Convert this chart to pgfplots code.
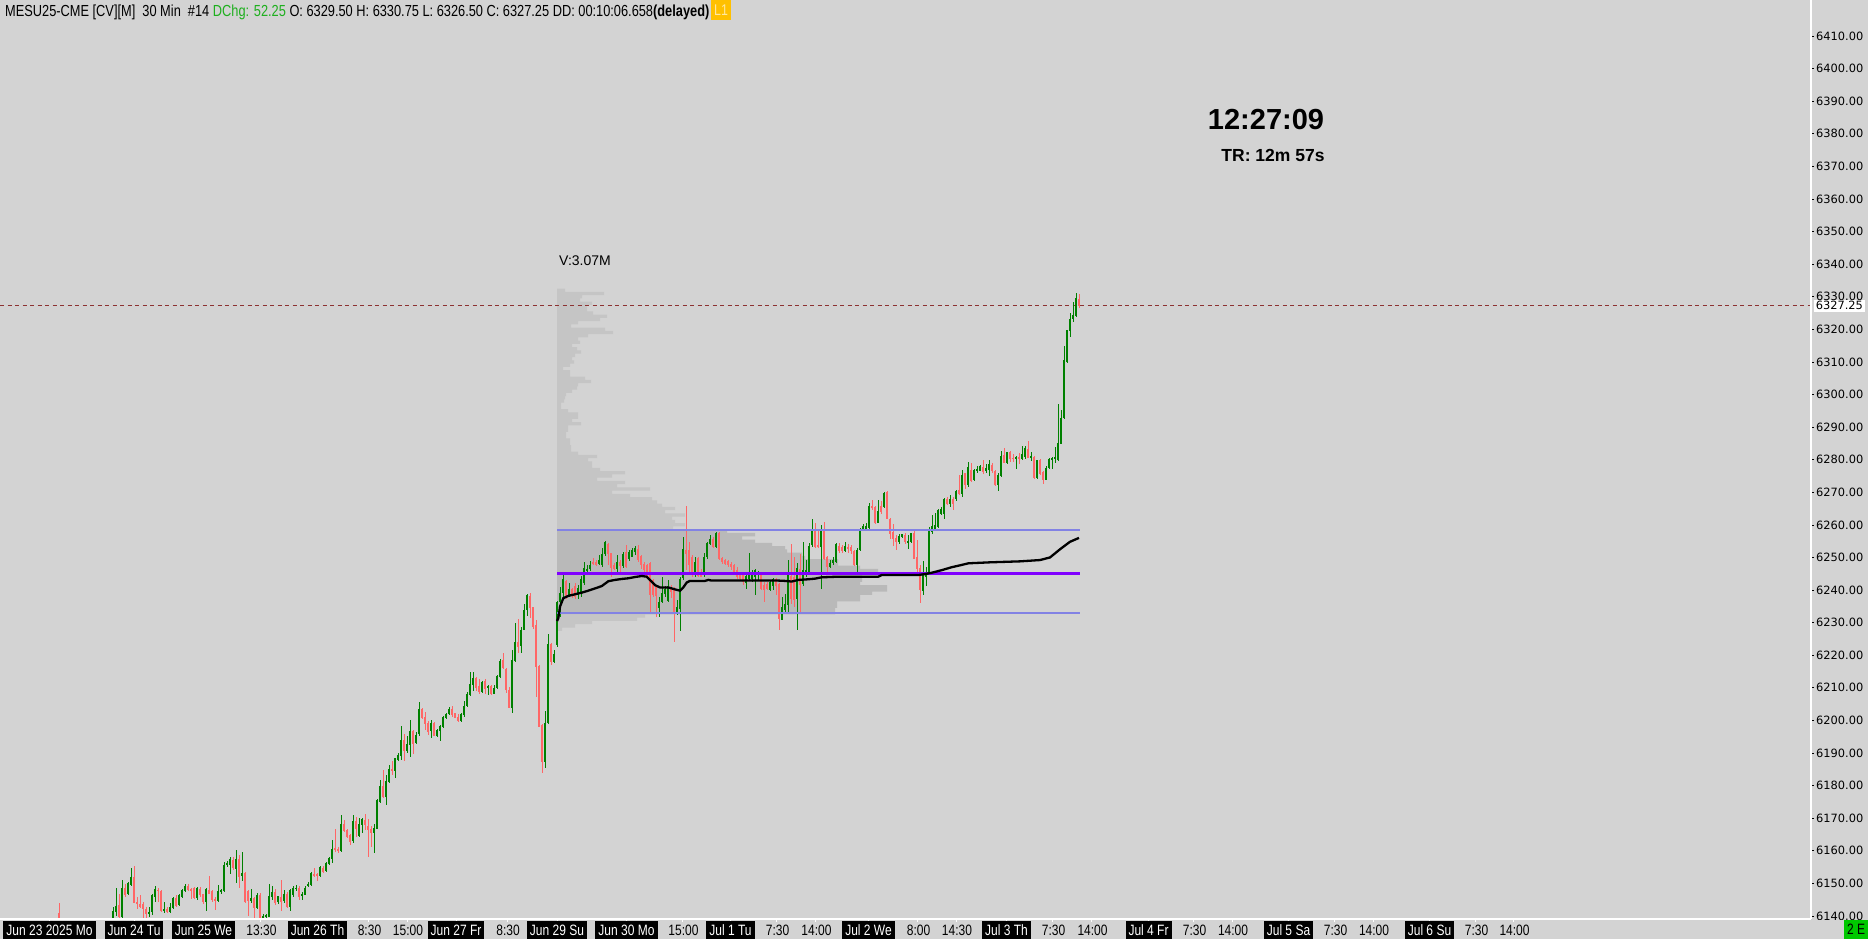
\documentclass[border=0pt]{standalone}
\usepackage{pgfplots}
\pgfplotsset{compat=1.18}
\usepackage{pgfplotstable}
\usepackage{fontspec}
\setmainfont{Liberation Sans}
\newfontfamily\narrowf[FakeStretch=0.8]{Liberation Sans}
\newfontfamily\dvs{DejaVu Sans}
\definecolor{bgc}{RGB}{211,211,211}
\definecolor{upc}{RGB}{0,128,0}
\definecolor{dnc}{RGB}{255,102,102}
\definecolor{profout}{RGB}{197,197,197}
\definecolor{profin}{RGB}{185,185,185}
\definecolor{valine}{RGB}{130,130,228}
\definecolor{pocline}{RGB}{128,0,255}
\definecolor{lastc}{RGB}{140,50,50}
\definecolor{dchg}{RGB}{30,175,30}
\definecolor{lone}{RGB}{255,192,0}
\definecolor{lonet}{RGB}{255,232,160}
\definecolor{eboxc}{RGB}{0,200,0}
\newcommand\db[1]{{\setlength\fboxsep{0pt}\colorbox{black}{\rule[-4pt]{0pt}{18pt}\hspace{3pt}\textcolor{white}{#1}\hspace{3pt}}}}
\newcommand\tl[1]{\rule[-4pt]{0pt}{18pt}\hspace{2pt}#1\hspace{2pt}}

\pgfplotstableread{
i o h l c
-18 6141.0 6143.9 6135.0 6138.0
0 6138.3 6142.7 6137.7 6141.5
1 6141.3 6148.8 6140.0 6143.0
2 6143.3 6146.7 6139.5 6139.8
3 6139.8 6151.0 6139.6 6148.5
4 6148.5 6150.0 6145.9 6146.6
5 6146.6 6150.5 6146.4 6150.2
6 6149.5 6154.6 6149.2 6151.9
7 6151.9 6155.3 6143.9 6144.1
8 6144.3 6145.9 6142.3 6143.7
9 6143.7 6146.4 6142.6 6142.9
10 6143.9 6144.4 6139.1 6142.3
11 6142.3 6142.8 6138.0 6140.6
12 6140.8 6142.8 6139.8 6141.5
13 6141.3 6146.9 6140.3 6146.3
14 6145.9 6149.2 6144.4 6148.2
15 6148.2 6148.8 6144.4 6147.8
16 6147.7 6148.0 6141.3 6141.6
17 6141.6 6144.4 6140.8 6142.1
18 6142.1 6142.6 6140.8 6141.3
19 6141.3 6144.1 6141.0 6142.9
20 6142.6 6145.9 6142.3 6145.6
21 6145.7 6146.4 6142.9 6143.3
22 6143.5 6146.9 6143.3 6146.6
23 6145.9 6148.4 6145.7 6148.0
24 6147.8 6150.0 6147.5 6149.2
25 6149.2 6149.8 6147.8 6148.0
26 6148.4 6148.8 6145.4 6148.0
27 6148.4 6148.8 6145.2 6145.3
28 6145.3 6148.8 6144.9 6148.4
29 6148.4 6148.8 6145.9 6146.4
30 6146.7 6146.9 6143.9 6144.4
31 6144.3 6148.5 6141.6 6148.2
32 6148.0 6152.3 6146.7 6146.9
33 6147.8 6148.2 6144.4 6144.9
34 6145.1 6145.9 6141.8 6144.7
35 6144.7 6149.5 6144.4 6147.7
36 6147.5 6148.5 6147.0 6148.0
37 6147.8 6156.8 6147.5 6155.9
38 6155.6 6157.0 6155.1 6156.2
39 6155.6 6158.0 6152.9 6157.5
40 6157.2 6158.0 6154.1 6154.8
41 6154.6 6160.2 6150.0 6157.5
42 6157.5 6158.7 6148.5 6152.1
43 6152.3 6159.7 6151.0 6153.3
44 6153.1 6153.6 6144.1 6144.4
45 6147.5 6148.0 6140.0 6144.7
46 6144.7 6148.5 6144.1 6145.5
47 6145.5 6145.9 6139.3 6142.6
48 6142.6 6147.1 6142.3 6146.4
49 6146.4 6147.1 6137.5 6138.5
50 6139.1 6140.8 6138.5 6140.0
51 6139.8 6140.8 6139.0 6140.3
52 6139.8 6149.7 6139.6 6146.1
53 6145.9 6149.2 6144.9 6147.4
54 6147.4 6148.2 6143.4 6143.9
55 6144.4 6146.4 6143.9 6146.1
56 6145.9 6151.0 6141.6 6144.4
57 6144.7 6148.0 6144.1 6146.7
58 6146.7 6147.5 6142.6 6142.9
59 6142.9 6148.2 6141.6 6148.0
60 6146.7 6149.2 6145.9 6148.8
61 6148.5 6149.5 6147.8 6148.8
62 6148.8 6149.2 6145.1 6146.1
63 6146.4 6147.5 6144.9 6146.9
64 6146.7 6149.2 6146.4 6148.8
65 6149.2 6150.5 6148.8 6149.7
66 6149.4 6153.6 6149.2 6153.3
67 6153.1 6154.8 6151.9 6152.3
68 6152.9 6153.3 6150.8 6152.3
69 6152.3 6155.6 6152.1 6154.9
70 6154.9 6155.3 6153.1 6153.6
71 6153.9 6156.7 6153.6 6156.4
72 6156.0 6158.2 6155.6 6157.7
73 6157.5 6163.5 6156.2 6160.6
74 6160.8 6166.9 6159.7 6160.2
75 6160.6 6161.3 6159.4 6160.0
76 6160.0 6171.0 6159.9 6168.4
77 6168.4 6169.6 6165.9 6166.1
78 6166.4 6166.6 6164.1 6164.5
79 6165.0 6165.3 6161.8 6162.8
80 6162.8 6171.0 6162.5 6169.1
81 6169.1 6170.5 6164.3 6166.9
82 6164.6 6170.2 6164.3 6168.4
83 6167.9 6170.2 6165.4 6170.0
84 6169.6 6171.5 6166.4 6167.9
85 6167.6 6169.6 6158.0 6166.4
86 6166.6 6167.6 6161.4 6165.4
87 6165.4 6168.4 6159.4 6167.1
88 6166.9 6176.0 6166.6 6175.6
89 6175.1 6181.9 6174.8 6179.9
90 6179.9 6185.0 6176.4 6176.6
91 6176.6 6183.2 6174.0 6181.4
92 6181.1 6186.3 6180.7 6185.0
93 6185.3 6187.5 6183.2 6184.5
94 6184.5 6188.7 6182.5 6188.4
95 6188.0 6190.1 6187.6 6189.4
96 6189.1 6198.3 6187.9 6194.0
97 6194.0 6195.8 6187.6 6190.9
98 6190.9 6195.2 6190.1 6192.8
99 6192.5 6200.1 6188.9 6196.8
100 6196.8 6197.3 6189.9 6193.0
101 6193.2 6196.5 6192.8 6195.5
102 6196.0 6205.8 6195.3 6203.5
103 6203.5 6204.0 6200.6 6200.8
104 6201.1 6202.7 6196.9 6198.9
105 6199.4 6199.9 6195.5 6196.5
106 6196.8 6200.1 6194.7 6199.4
107 6199.4 6199.6 6195.3 6195.3
108 6195.3 6197.3 6195.0 6197.1
109 6196.9 6198.6 6193.8 6198.3
110 6198.1 6201.5 6197.8 6201.1
111 6200.8 6202.4 6200.5 6202.0
112 6202.0 6204.2 6201.8 6203.4
113 6203.4 6204.4 6201.1 6201.7
114 6202.2 6202.4 6200.6 6200.9
115 6201.1 6201.9 6199.6 6199.9
116 6199.9 6202.4 6199.6 6201.9
117 6201.6 6206.0 6201.1 6204.4
118 6204.4 6208.7 6204.2 6208.1
119 6207.8 6214.9 6207.5 6211.1
120 6210.9 6214.9 6209.1 6213.2
121 6213.2 6213.4 6209.1 6210.1
122 6210.6 6212.9 6208.3 6208.8
123 6208.8 6212.2 6208.5 6211.8
124 6212.1 6212.8 6208.1 6209.6
125 6209.8 6210.9 6207.8 6210.6
126 6210.6 6210.9 6207.8 6208.1
127 6208.3 6210.9 6208.1 6210.2
128 6209.8 6213.9 6209.5 6213.6
129 6213.4 6218.9 6213.1 6218.5
130 6218.5 6220.9 6215.9 6216.2
131 6215.8 6216.3 6208.5 6209.3
132 6209.3 6210.1 6203.9 6203.9
133 6203.9 6221.6 6202.4 6218.5
134 6218.3 6230.1 6218.0 6224.2
135 6224.2 6231.3 6220.8 6222.6
136 6222.8 6228.8 6220.8 6227.9
137 6227.9 6235.9 6227.7 6233.9
138 6233.9 6238.8 6232.2 6238.5
139 6238.2 6239.0 6231.5 6234.4
140 6234.7 6234.9 6228.0 6228.8
141 6229.3 6230.8 6207.3 6216.5
142 6216.7 6217.0 6198.1 6198.1
143 6198.6 6198.9 6183.8 6187.3
144 6187.3 6203.0 6185.6 6199.3
145 6199.3 6226.7 6199.1 6223.6
146 6223.4 6223.8 6217.1 6218.0
147 6218.0 6221.6 6217.7 6220.6
148 6223.1 6236.6 6222.6 6236.3
149 6236.4 6240.8 6231.8 6239.2
150 6239.0 6245.6 6238.0 6243.3
151 6242.8 6243.1 6237.5 6237.8
152 6238.0 6242.1 6237.8 6240.5
153 6240.5 6240.8 6237.8 6239.0
154 6241.5 6242.1 6237.2 6238.0
155 6238.5 6241.5 6237.2 6240.5
156 6238.8 6244.3 6238.0 6243.3
157 6242.1 6248.7 6241.8 6246.7
158 6246.2 6247.7 6245.6 6246.7
159 6246.4 6249.0 6246.0 6247.7
160 6248.7 6250.0 6247.7 6248.0
161 6248.7 6249.4 6247.4 6247.7
162 6248.2 6250.8 6247.7 6249.2
163 6247.7 6252.8 6247.2 6251.3
164 6251.1 6255.2 6250.4 6254.8
165 6254.3 6254.5 6247.7 6251.1
166 6251.3 6251.5 6244.1 6246.7
167 6247.7 6248.2 6246.0 6246.7
168 6246.7 6250.8 6245.1 6248.7
169 6248.7 6249.4 6245.6 6247.4
170 6247.4 6251.6 6246.7 6251.3
171 6251.8 6253.8 6246.7 6247.2
172 6249.7 6252.3 6249.2 6251.8
173 6250.4 6252.8 6250.0 6252.3
174 6251.8 6253.5 6250.8 6252.8
175 6252.8 6253.8 6248.7 6249.2
176 6250.4 6250.8 6246.7 6247.7
177 6248.2 6248.7 6244.1 6246.2
178 6247.7 6248.2 6244.1 6244.6
179 6248.2 6248.7 6233.4 6238.5
180 6243.1 6243.6 6238.0 6238.5
181 6240.8 6241.5 6231.8 6238.2
182 6234.4 6238.0 6231.8 6236.4
183 6236.4 6244.1 6235.9 6239.2
184 6239.0 6241.5 6238.0 6240.5
185 6236.7 6243.1 6236.4 6241.2
186 6240.8 6241.5 6237.5 6239.5
187 6240.0 6240.8 6224.2 6232.9
188 6232.7 6236.9 6232.3 6234.7
189 6234.4 6244.1 6227.5 6243.6
190 6243.6 6256.4 6243.1 6252.5
191 6252.5 6265.8 6246.2 6251.3
192 6252.3 6254.8 6245.1 6247.7
193 6250.3 6250.8 6243.9 6244.6
194 6244.6 6250.2 6244.1 6248.7
195 6249.7 6250.0 6243.9 6244.3
196 6245.6 6246.4 6243.9 6244.3
197 6244.6 6251.5 6244.1 6250.2
198 6250.2 6254.8 6249.7 6254.5
199 6254.3 6256.9 6253.8 6255.9
200 6255.6 6256.4 6252.8 6253.3
201 6253.3 6257.9 6252.8 6257.6
202 6257.6 6257.9 6249.4 6249.7
203 6250.0 6250.2 6248.2 6248.7
204 6249.2 6249.7 6247.7 6248.2
205 6249.0 6249.4 6247.2 6247.7
206 6248.2 6248.7 6246.2 6247.2
207 6247.7 6248.0 6244.6 6245.1
208 6246.2 6247.2 6243.6 6244.1
209 6245.1 6245.6 6243.1 6243.6
210 6244.6 6245.1 6241.5 6242.6
211 6242.3 6244.6 6240.2 6244.3
212 6243.3 6251.3 6242.6 6244.6
213 6243.6 6246.2 6242.6 6245.1
214 6243.9 6246.7 6238.5 6246.2
215 6244.6 6245.9 6243.1 6245.6
216 6245.3 6245.6 6240.0 6240.5
217 6241.5 6242.6 6236.4 6240.2
218 6241.9 6242.6 6240.0 6240.5
219 6240.2 6243.1 6239.8 6242.6
220 6241.2 6243.9 6240.2 6243.3
221 6243.3 6243.6 6238.5 6241.2
222 6242.1 6242.3 6227.7 6231.3
223 6230.8 6238.0 6230.8 6234.9
224 6233.9 6238.8 6233.4 6235.7
225 6235.4 6249.2 6233.4 6245.6
226 6244.3 6254.3 6235.9 6237.2
227 6244.1 6250.2 6234.9 6237.2
228 6237.2 6248.2 6227.7 6246.7
229 6246.7 6251.3 6233.4 6241.5
230 6242.1 6254.8 6241.5 6246.2
231 6244.6 6249.2 6244.1 6246.2
232 6244.9 6254.5 6244.6 6253.8
233 6253.8 6261.7 6253.3 6258.9
234 6258.6 6260.5 6252.8 6253.3
235 6253.8 6258.9 6252.8 6253.3
236 6253.3 6260.0 6240.5 6258.2
237 6258.2 6261.0 6249.2 6249.7
238 6250.2 6250.4 6244.6 6247.2
239 6247.2 6249.2 6246.7 6248.4
240 6248.4 6250.2 6247.7 6249.4
241 6248.7 6254.4 6248.4 6254.1
242 6253.5 6254.5 6251.3 6252.1
243 6253.3 6253.8 6251.5 6252.1
244 6252.1 6254.8 6251.8 6253.5
245 6253.5 6254.1 6251.5 6252.8
246 6253.1 6253.8 6251.1 6252.1
247 6252.1 6252.5 6247.4 6247.7
248 6247.7 6252.8 6245.1 6252.5
249 6252.3 6259.2 6252.1 6258.9
250 6258.6 6260.5 6258.4 6259.6
251 6258.9 6260.7 6258.2 6259.6
252 6259.2 6266.8 6258.9 6265.8
253 6265.8 6267.6 6264.6 6265.1
254 6265.6 6266.0 6260.5 6260.7
255 6260.7 6267.6 6260.5 6264.5
256 6265.8 6267.6 6263.5 6264.0
257 6265.6 6270.2 6265.4 6270.0
258 6270.2 6270.4 6261.7 6262.0
259 6262.0 6262.3 6255.9 6257.4
260 6257.9 6260.5 6253.8 6255.6
261 6255.9 6256.9 6252.5 6254.8
262 6254.8 6257.2 6254.3 6256.6
263 6256.4 6257.4 6256.2 6257.2
264 6256.9 6257.4 6254.3 6254.8
265 6254.5 6256.9 6252.8 6255.0
266 6254.8 6257.6 6254.3 6257.4
267 6257.4 6258.4 6249.7 6249.7
268 6250.2 6255.4 6245.1 6246.4
269 6246.7 6247.7 6235.9 6240.0
270 6240.0 6249.2 6238.5 6245.3
271 6244.1 6247.2 6241.5 6245.3
272 6245.3 6259.4 6244.9 6258.2
273 6257.9 6263.3 6257.4 6259.6
274 6258.9 6263.7 6258.6 6260.0
275 6259.6 6265.1 6259.2 6264.8
276 6263.5 6265.6 6263.3 6265.1
277 6263.5 6268.4 6261.7 6268.1
278 6268.1 6268.6 6266.1 6266.4
279 6266.4 6269.2 6265.6 6268.1
280 6268.1 6268.4 6264.6 6266.4
281 6268.1 6270.7 6267.6 6270.4
282 6270.9 6275.3 6269.2 6269.5
283 6269.7 6276.8 6268.5 6275.3
284 6275.8 6276.0 6271.2 6272.2
285 6272.2 6279.4 6271.7 6277.9
286 6276.8 6279.1 6273.2 6273.6
287 6273.8 6277.3 6273.6 6276.8
288 6276.8 6278.1 6276.0 6277.1
289 6276.8 6278.4 6276.6 6278.1
290 6277.9 6279.9 6275.6 6276.3
291 6276.6 6278.7 6276.0 6277.6
292 6277.0 6279.9 6275.0 6278.7
293 6278.4 6279.1 6276.0 6276.6
294 6276.6 6276.8 6271.9 6272.2
295 6272.2 6276.0 6270.5 6275.3
296 6275.1 6282.8 6274.8 6281.1
297 6281.4 6283.7 6278.9 6279.1
298 6279.1 6282.6 6278.7 6282.4
299 6282.4 6282.8 6279.4 6280.4
300 6280.7 6281.9 6279.4 6280.2
301 6280.2 6281.1 6277.3 6280.9
302 6280.9 6282.1 6278.9 6280.4
303 6280.4 6284.2 6280.1 6281.7
304 6280.9 6284.2 6280.4 6283.5
305 6283.5 6285.6 6280.4 6280.7
306 6280.7 6282.5 6279.7 6281.1
307 6280.9 6281.1 6274.3 6274.5
308 6274.5 6280.1 6274.0 6279.9
309 6280.1 6280.4 6275.3 6275.6
310 6276.3 6276.6 6272.7 6273.8
311 6273.8 6278.1 6273.8 6277.6
312 6277.3 6280.4 6277.0 6280.1
313 6279.9 6280.9 6277.3 6280.7
314 6280.4 6284.0 6278.9 6280.9
315 6279.9 6297.1 6279.7 6285.2
316 6285.0 6295.2 6284.8 6293.0
317 6293.0 6314.9 6292.7 6310.6
318 6310.1 6320.0 6309.8 6319.8
319 6319.6 6325.1 6317.7 6323.4
320 6323.1 6328.5 6322.3 6324.4
321 6324.1 6331.2 6323.9 6329.5
322 6329.50 6330.75 6326.50 6327.25
}\candles

\begin{document}
\begin{tikzpicture}[x=1pt,y=1pt]
\fill[bgc] (0,-20) rectangle (1868,919);
\useasboundingbox (0,-20) rectangle (1868,919);

% volume profile
\begin{axis}[at={(0,0)}, anchor=south west, scale only axis,
  width=1811pt, height=919pt,
  xmin=-557, xmax=1254, ymin=6139.06, ymax=6421.05, hide axis]
\addplot[xbar, bar width=1, bar shift=0pt, fill=profout, draw=none] coordinates {
(8,6332) (47,6331) (25,6330) (23,6329) (35,6328) (30,6327) (30,6326) (36,6325)
(50,6324) (43,6323) (21,6322) (14,6321) (48,6320) (56,6319) (31,6318) (21,6317)
(23,6316) (15,6315) (20,6314) (24,6313) (18,6312) (15,6311) (17,6310) (13,6309)
(6,6308) (13,6307) (13,6306) (28,6305) (34,6304) (21,6303) (20,6302) (15,6301)
(9,6300) (8,6299) (7,6298) (4,6297) (4,6296) (11,6295) (21,6294) (21,6293)
(15,6292) (24,6291) (11,6290) (11,6289) (9,6288) (9,6287) (13,6286) (13,6285)
(14,6284) (14,6283) (21,6282) (40,6281) (31,6280) (35,6279) (35,6278) (43,6277)
(68,6276) (55,6275) (40,6274) (68,6273) (60,6272) (93,6271) (55,6270) (73,6269)
(95,6268) (100,6267) (105,6266) (118,6265) (108,6264) (128,6263) (115,6262)
(118,6261) (128,6260) (116,6259)
(88,6232) (80,6231) (35,6230) (18,6229) (5,6228)};
\addplot[xbar, bar width=1, bar shift=0pt, fill=profin, draw=none] coordinates {
(170,6258) (198,6257) (185,6256) (198,6255) (215,6254) (228,6253) (230,6252)
(245,6251) (248,6250) (281,6249) (281,6248) (303,6247) (321,6246) (330,6245)
(305,6244) (305,6243) (303,6242) (330,6241) (330,6240) (315,6239) (303,6238)
(303,6237) (280,6236) (280,6235) (278,6234) (278,6233)};
\end{axis}

% price chart
\begin{axis}[at={(0,0)}, anchor=south west, scale only axis,
  width=1811pt, height=919pt,
  xmin=0, xmax=1811, ymin=6139.06, ymax=6421.05,
  axis line style={draw=none},
  tick align=outside, major tick length=3pt,
  tick style={black, line width=0.7pt},
  x tick style={white, line width=0.8pt},
  ytick={6140,6150,...,6410},
  ytick pos=right, yticklabel pos=right,
  yticklabel={\pgfmathprintnumber[fixed,fixed zerofill,precision=2,1000 sep={},assume math mode=true]{\tick}},
  yticklabel style={anchor=west, inner sep=0pt, xshift=2pt, font=\dvs\fontsize{11.4}{13}\selectfont},
  xtick pos=bottom,
  xtick={49.5,134,203.5,260.5,317.5,368.5,407,456,507,557,626.5,682.5,730.5,776.5,815.5,868.5,917.5,956,1006.5,1052.5,1091.5,1148.5,1193.5,1232,1288.5,1334.5,1373,1429.5,1475.5,1513.5},
  xticklabels={\db{Jun 23 2025 Mo},\db{Jun 24 Tu},\db{Jun 25 We},\tl{13:30},\db{Jun 26 Th},\tl{8:30},\tl{15:00},\db{Jun 27 Fr},\tl{8:30},\db{Jun 29 Su},\db{Jun 30 Mo},\tl{15:00},\db{Jul 1 Tu},\tl{7:30},\tl{14:00},\db{Jul 2 We},\tl{8:00},\tl{14:30},\db{Jul 3 Th},\tl{7:30},\tl{14:00},\db{Jul 4 Fr},\tl{7:30},\tl{14:00},\db{Jul 5 Sa},\tl{7:30},\tl{14:00},\db{Jul 6 Su},\tl{7:30},\tl{14:00}},
  xticklabel style={anchor=north, inner sep=0pt, yshift=1pt, font=\narrowf\fontsize{15}{18}\selectfont},
]
% last price line
\addplot[lastc, line width=1pt, dash pattern=on 4pt off 3.5pt] coordinates {(0,6327.25) (1811,6327.25)};
% candles: wicks
\addplot[draw=none, mark=none, restrict expr to domain={\thisrow{c}-\thisrow{o}}{0:1000},
  error bars/.cd, y dir=both, y explicit, error mark=none, error bar style={draw=upc, line width=1pt}]
  table[x expr={113+3*\thisrow{i}}, y expr={(\thisrow{h}+\thisrow{l})/2}, y error expr={(\thisrow{h}-\thisrow{l})/2}] {\candles};
\addplot[draw=none, mark=none, restrict expr to domain={\thisrow{c}-\thisrow{o}}{-1000:-0.001},
  error bars/.cd, y dir=both, y explicit, error mark=none, error bar style={draw=dnc, line width=1pt}]
  table[x expr={113+3*\thisrow{i}}, y expr={(\thisrow{h}+\thisrow{l})/2}, y error expr={(\thisrow{h}-\thisrow{l})/2}] {\candles};
% candles: bodies
\addplot[draw=none, mark=none, restrict expr to domain={\thisrow{c}-\thisrow{o}}{0:1000},
  error bars/.cd, y dir=both, y explicit, error mark=none, error bar style={draw=upc, line width=2.5pt}]
  table[x expr={113+3*\thisrow{i}}, y expr={(\thisrow{o}+\thisrow{c})/2}, y error expr={max(abs(\thisrow{c}-\thisrow{o})/2,0.18)}] {\candles};
\addplot[draw=none, mark=none, restrict expr to domain={\thisrow{c}-\thisrow{o}}{-1000:-0.001},
  error bars/.cd, y dir=both, y explicit, error mark=none, error bar style={draw=dnc, line width=2.5pt}]
  table[x expr={113+3*\thisrow{i}}, y expr={(\thisrow{o}+\thisrow{c})/2}, y error expr={max(abs(\thisrow{c}-\thisrow{o})/2,0.18)}] {\candles};
% value area and POC
\addplot[valine, line width=1.8pt] coordinates {(557,6258.5) (1080,6258.5)};
\addplot[valine, line width=1.8pt] coordinates {(557,6233) (1080,6233)};
\addplot[pocline, line width=2.7pt] coordinates {(557,6245) (1080,6245)};
% VWAP
\addplot[black, line width=2.3pt] coordinates {
(557,6230.5) (558.3,6231.3) (560,6234.9) (563.3,6237.5) (568.3,6238.2) (575,6238.7)
(581.7,6239.2) (588.3,6239.8) (595,6240.5) (601.7,6241.2) (608.3,6242.7) (615,6243.1)
(621.7,6243.4) (628.3,6243.6) (635,6244.0) (641.7,6244.3) (646.7,6244.1) (650,6243.1)
(655,6241.5) (660,6240.8) (668.3,6240.8) (675,6240.2) (680,6239.8) (683.3,6240.8)
(686.7,6242.3) (690,6242.8) (705,6242.8) (708.3,6243.1) (711.7,6242.9) (778.3,6242.9)
(785,6242.8) (791.7,6242.6) (798.3,6243.1) (808.3,6243.3) (815,6243.5) (821.7,6243.9)
(838.3,6244.1) (878.3,6244.1) (881.7,6244.6) (918.3,6244.6) (925,6244.9) (931.7,6245.3)
(941.7,6246.1) (951.7,6247.0) (961.7,6247.7) (968.3,6248.2) (990,6248.5) (1020,6248.8)
(1040,6249.2) (1050,6250.0) (1060,6252.5) (1070,6254.8) (1079,6256.0)};
\end{axis}

% frame lines
\draw[white, line width=1.3pt] (0,0) -- (1811,0);
\draw[white, line width=1.3pt] (1811,0) -- (1811,919);
\fill[bgc] (1812,-20) rectangle (1868,-0.7);
\fill[eboxc] (1844,-20) rectangle (1868,-1);
\node[anchor=center, inner sep=0pt, font=\narrowf\fontsize{15}{18}\selectfont] at (1856,-10.5) {2 E};
% current price label
\node[fill=white, anchor=west, inner sep=1.6pt, font=\dvs\fontsize{11.4}{13}\selectfont] at (1814,613.3) {6327.25};

% header
\node[anchor=base west, inner sep=0pt, font=\narrowf\fontsize{16}{18}\selectfont] at (5,902)
 {MESU25-CME [CV][M]\ \ 30 Min\ \ \#14 \textcolor{dchg}{DChg: 52.25} O: 6329.50 H: 6330.75 L: 6326.50 C: 6327.25 DD: 00:10:06.658{\bfseries(delayed)}};
\fill[lone] (711,899) rectangle (731,919);
\node[anchor=center, inner sep=0pt, text=lonet, font=\narrowf\fontsize{15.5}{18}\selectfont] at (721,909) {L1};

% annotations
\node[anchor=west, inner sep=0pt, font=\fontsize{14}{16}\selectfont] at (559,658) {V:3.07M};
\node[anchor=center, inner sep=0pt, font=\bfseries\fontsize{29}{32}\selectfont] at (1266,799) {12:27:09};
\node[anchor=center, inner sep=0pt, font=\bfseries\fontsize{17.5}{20}\selectfont] at (1273,764) {TR: 12m 57s};
\end{tikzpicture}
\end{document}
